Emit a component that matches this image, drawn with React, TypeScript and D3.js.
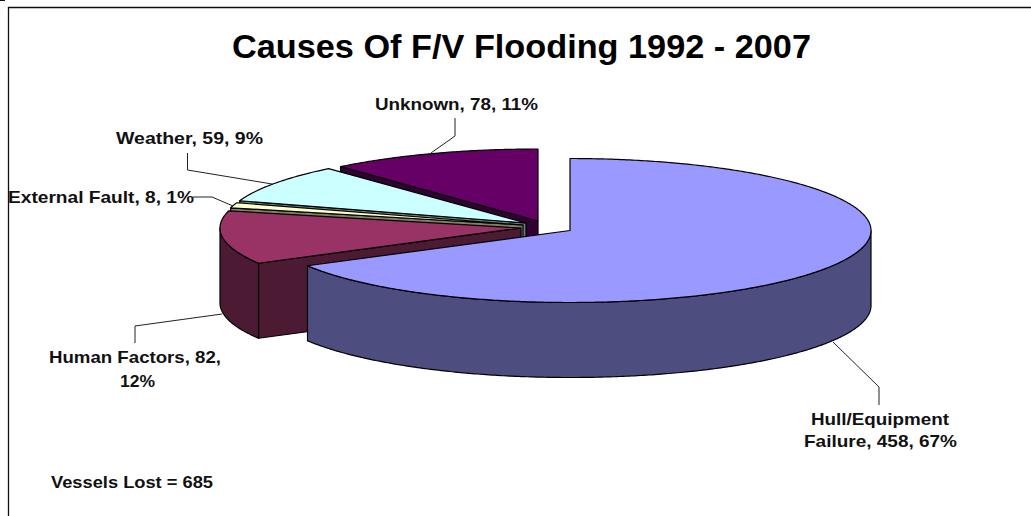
import React from "react";
import * as d3 from "d3";

const categories = ["Hull/Equipment Failure", "Human Factors", "External Fault", "Weather", "Unknown"];
const values = [458, 82, 8, 59, 78];
const percents = [67, 12, 1, 9, 11];
const topColors = ["#9999ff", "#993366", "#ffffcc", "#ccffff", "#660066"];
const wallColors = ["#4d4d80", "#4d1a33", "#808066", "#668080", "#330033"];
const titleText = "Causes Of F/V Flooding 1992 - 2007";
const noteText = "Vessels Lost = 685";

const W = 1031, H = 516;
const RX = 301, RY = 72, DEPTH = 75;
// centre of each exploded slice
const apexes: [number, number][] = [[570, 230.5], [521, 228], [523, 225], [526, 223], [538, 221]];
const leaders: [number, number][][] = [
  [[833, 342], [879, 387], [879, 405]],
  [[222, 314], [135, 326], [135, 343]],
  [[233, 206], [212, 197], [193, 197]],
  [[272, 184], [187.5, 170], [187.5, 153]],
  [[431, 153], [455, 136], [455, 118]],
];
// per-label text lines: split point in words, x-range, baselines
const labelLayout = [
  { split: 1, lines: [[811, 949, 425], [804, 957, 447]] },
  { split: 3, lines: [[49, 221, 363], [120, 155, 387]] },
  { split: 99, lines: [[8, 194, 203]] },
  { split: 99, lines: [[116, 263, 144]] },
  { split: 99, lines: [[375, 538, 110]] },
];

const FONT = "'Liberation Sans', Arial, sans-serif";
const LABEL_SIZE = 16.5;

export default function App() {
  const arcs = d3.pie<number>().sort(null).startAngle(0).endAngle(2 * Math.PI)(values);
  const line = d3.line();
  const rim = (i: number, t: number, dy = 0): [number, number] => [
    apexes[i][0] + RX * Math.sin(t),
    apexes[i][1] - RY * Math.cos(t) + dy,
  ];
  const sweep = (i: number, a: number, b: number, dy = 0) => {
    const n = Math.max(2, Math.ceil((b - a) / 0.01));
    return d3.range(n + 1).map((k) => rim(i, a + ((b - a) * k) / n, dy));
  };

  const order = d3.range(values.length).reverse();

  return (
    <svg
      width={W}
      height={H}
      viewBox={`0 0 ${W} ${H}`}
      style={{ position: "absolute", left: 0, top: 0, background: "#fff" }}
    >
      <path d={`M8.5,${H} V7.5 H${W}`} fill="none" stroke="#111" strokeWidth={1.3} />
      <rect x={0} y={0} width={5} height={1} fill="#111" />

      {order.map((i) => {
        const a = arcs[i].startAngle, b = arcs[i].endAngle;
        const [ax, ay] = apexes[i];
        const wa = Math.max(a, Math.PI / 2), wb = Math.min(b, 1.5 * Math.PI);
        const startRim = rim(i, a);
        return (
          <g key={categories[i]} stroke="#000" strokeWidth={1.2} strokeLinejoin="round">
            {i > 0 && (
              <path
                fill={wallColors[i]}
                d={line([[ax, ay], startRim, [startRim[0], startRim[1] + DEPTH], [ax, ay + DEPTH]]) + "Z"}
              />
            )}
            {wb > wa && (
              <path
                fill={wallColors[i]}
                d={line([...sweep(i, wa, wb), ...sweep(i, wa, wb, DEPTH).reverse()]) + "Z"}
              />
            )}
            <path fill={topColors[i]} d={line([[ax, ay], ...sweep(i, a, b)]) + "Z"} />
          </g>
        );
      })}

      {leaders.map((pts, i) => (
        <path key={i} d={line(pts as any)!} fill="none" stroke="#222" strokeWidth={1} />
      ))}

      <text
        x={232}
        y={58}
        textLength={579}
        lengthAdjust="spacingAndGlyphs"
        fontFamily={FONT}
        fontWeight="bold"
        fontSize={33}
        fill="#000"
      >
        {titleText}
      </text>

      {categories.map((c, i) => {
        const full = `${c}, ${values[i]}, ${percents[i]}%`.split(" ");
        const { split, lines } = labelLayout[i];
        const parts = lines.length > 1 ? [full.slice(0, split).join(" "), full.slice(split).join(" ")] : [full.join(" ")];
        return parts.map((s, k) => (
          <text
            key={`${i}-${k}`}
            x={lines[k][0]}
            y={lines[k][2]}
            textLength={lines[k][1] - lines[k][0]}
            lengthAdjust="spacingAndGlyphs"
            fontFamily={FONT}
            fontWeight="bold"
            fontSize={LABEL_SIZE}
            fill="#111"
          >
            {s}
          </text>
        ));
      })}

      <text
        x={51}
        y={488}
        textLength={162}
        lengthAdjust="spacingAndGlyphs"
        fontFamily={FONT}
        fontWeight="bold"
        fontSize={LABEL_SIZE}
        fill="#111"
      >
        {noteText}
      </text>
    </svg>
  );
}
